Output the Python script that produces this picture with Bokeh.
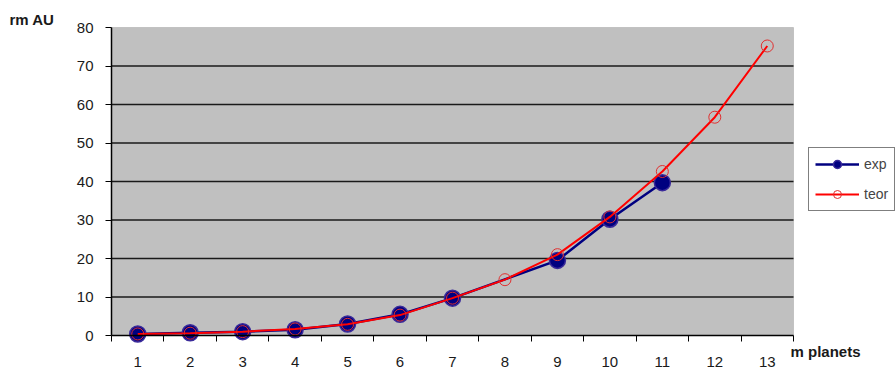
from bokeh.plotting import figure
from bokeh.models import Range1d, FixedTicker, Label, Legend, LegendItem, BoxAnnotation
from bokeh.embed import file_html
from bokeh.resources import INLINE

# data
m_planets = [1, 2, 3, 4, 5, 6, 7, 8, 9, 10, 11, 12, 13]
exp_m = [1, 2, 3, 4, 5, 6, 7, 9, 10, 11]
exp_vals = [0.4, 0.7, 1.0, 1.5, 3.0, 5.5, 9.7, 19.5, 30.2, 39.7]
teor_vals = [0.4, 0.6, 1.0, 1.7, 2.9, 5.3, 9.7, 14.5, 21.0, 30.8, 42.6, 56.7, 75.2]
y_ticks = [0, 10, 20, 30, 40, 50, 60, 70, 80]
x_label = "m planets"
y_label = "rm AU"

FONT = "Liberation Sans"
W, H = 896, 369
# plot-area placement in pixels
PL, PR, PT, PB = 111, 793, 27, 335
XMIN, XMAX, YMIN, YMAX = 0.5, 13.5, 0, 80
sx = (PR - PL) / (XMAX - XMIN)
sy = (PB - PT) / (YMAX - YMIN)
x_start = XMIN - PL / sx
x_end = XMAX + (W - PR) / sx
y_start = YMIN - (H - PB) / sy
y_end = YMAX + PT / sy

p = figure(width=W, height=H, output_backend="svg", toolbar_location=None,
           x_range=Range1d(x_start, x_end), y_range=Range1d(y_start, y_end),
           min_border=0)
p.min_border_left = p.min_border_right = p.min_border_top = p.min_border_bottom = 0
p.background_fill_color = "white"
p.border_fill_color = "white"
p.outline_line_color = None
p.xgrid.grid_line_color = None
p.ygrid.grid_line_color = None

# plot area
p.add_layout(BoxAnnotation(left=XMIN, right=XMAX, bottom=YMIN, top=YMAX,
                           fill_color="#C0C0C0", fill_alpha=1,
                           line_color="#808080", line_width=1, level="underlay"))
# horizontal gridlines
grid_y = y_ticks[1:-1]
p.segment(x0=[XMIN] * len(grid_y), x1=[XMAX] * len(grid_y), y0=grid_y, y1=grid_y,
          line_color="#1a1a1a", line_width=1.5)

# axes
p.xaxis.fixed_location = YMIN
p.xaxis.bounds = (XMIN, XMAX)
p.xaxis.ticker = FixedTicker(ticks=m_planets, minor_ticks=[x + 0.5 for x in range(0, 14)])
p.xaxis.major_tick_line_color = None
p.xaxis.major_tick_out = 6
p.xaxis.major_tick_in = 0
p.xaxis.minor_tick_line_color = "black"
p.xaxis.minor_tick_out = 6
p.xaxis.minor_tick_in = 0
p.xaxis.minor_tick_line_width = 1
p.xaxis.major_label_standoff = 15

p.yaxis.fixed_location = XMIN
p.yaxis.bounds = (YMIN, YMAX)
p.yaxis.ticker = FixedTicker(ticks=y_ticks, minor_ticks=[])
p.yaxis.major_tick_line_color = "black"
p.yaxis.major_tick_out = 6
p.yaxis.major_tick_in = 0
p.yaxis.major_label_standoff = 12
for ax in (p.xaxis, p.yaxis):
    ax.axis_line_color = "black"
    ax.axis_line_width = 1.5
    ax.major_label_text_font = FONT
    ax.major_label_text_font_size = "15px"
    ax.major_label_text_color = "#1a1a1a"

# series
r1 = p.line(exp_m, exp_vals, line_color="#000080", line_width=2.5)
r2 = p.scatter(exp_m, exp_vals, marker="circle", size=16, fill_color="#000080",
               line_color="#3a2a9a", line_width=1.5)
r3 = p.line(m_planets, teor_vals, line_color="#FF0000", line_width=2)
r4 = p.scatter(m_planets, teor_vals, marker="circle", size=12, fill_color=None,
               line_color="#E03030", line_width=1)

legend = Legend(items=[LegendItem(label="exp", renderers=[r1, r2]),
                       LegendItem(label="teor", renderers=[r3, r4])],
                location=(808, H - 211), orientation="vertical")
legend.border_line_color = "black"
legend.border_line_width = 1
legend.background_fill_color = "white"
legend.background_fill_alpha = 1
legend.label_text_font = FONT
legend.label_text_font_size = "14px"
legend.glyph_width = 44
legend.glyph_height = 20
legend.label_height = 20
legend.spacing = 10
legend.padding = 6
legend.margin = 0
legend.label_standoff = 5
p.add_layout(legend, "center")

p.add_layout(Label(x=x_start + 9 / sx, y=y_end - 27 / sy, text=y_label, text_font=FONT,
                   text_font_size="15px", text_font_style="bold",
                   text_baseline="bottom", text_color="#1a1a1a"))
p.add_layout(Label(x=x_start + 790 / sx, y=y_end - 342 / sy, text=x_label, text_font=FONT,
                   text_font_size="15px", text_font_style="bold",
                   text_baseline="top", text_color="#1a1a1a"))

open("out.html", "w").write(file_html(p, INLINE))
